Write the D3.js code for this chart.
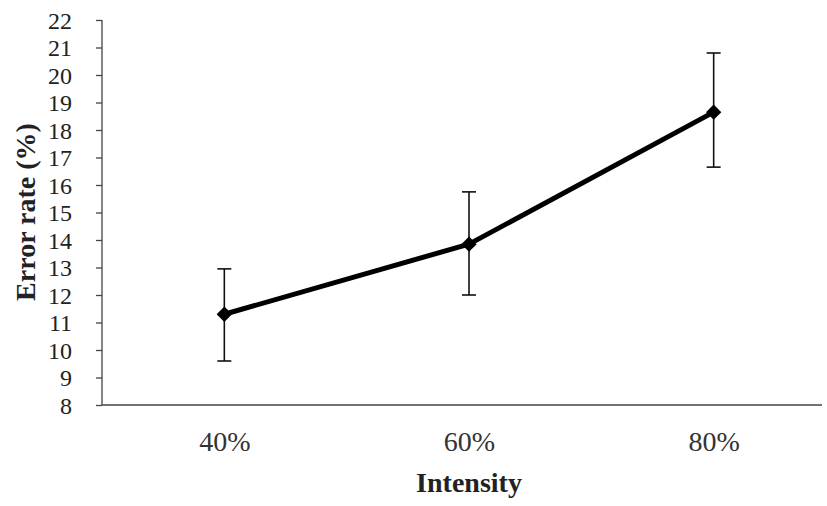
<!DOCTYPE html>
<html><head><meta charset="utf-8">
<script src="https://cdn.jsdelivr.net/npm/d3@7"></script>
<style>body{margin:0;background:#fff}svg{display:block}</style>
</head><body>
<svg id="c" width="827" height="506"></svg>
<script>
const categories = ["40%", "60%", "80%"];
const values = [11.3, 13.85, 18.65];
const errUpper = [12.95, 15.75, 20.8];
const errLower = [9.6, 12.0, 16.65];
const yTicks = d3.range(8, 23, 1);

const svg = d3.select("#c");
const x = d3.scalePoint().domain(categories).range([102, 836]).padding(0.5);
const y = d3.scaleLinear().domain([8, 22]).range([405, 20]);
const font = "'Liberation Serif', 'Times New Roman', Times, serif";
const ink = "#222";

// y axis
const ya = svg.append("g").attr("transform", "translate(102,0)")
  .call(d3.axisLeft(y).tickValues(yTicks).tickSize(6).tickPadding(24).tickFormat(d3.format("d")));
ya.select(".domain").attr("stroke", "#444").attr("stroke-width", 1.3).attr("d", "M0,20V405");
ya.selectAll(".tick line").attr("stroke", "#444").attr("stroke-width", 1.3);
ya.selectAll(".tick text").attr("font-family", font).style("font-size", "24px")
  .attr("fill", ink).attr("dy", "0.34em").attr("transform", "scale(1,1.15)")
  .attr("y", 0);
// keep vertical position after scaling
ya.selectAll(".tick text").attr("transform", null);

// x axis
const xa = svg.append("g").attr("transform", "translate(0,405)")
  .call(d3.axisBottom(x).tickSize(0).tickPadding(26));
xa.select(".domain").attr("stroke", "#444").attr("stroke-width", 1.3).attr("d", "M102,0H822");
xa.selectAll(".tick text").attr("font-family", font).style("font-size", "28px").attr("fill", "#333");

// error bars
const eb = svg.append("g").attr("stroke", "#111").attr("stroke-width", 1.6);
categories.forEach((c, i) => {
  eb.append("line").attr("x1", x(c)).attr("x2", x(c)).attr("y1", y(errUpper[i])).attr("y2", y(errLower[i]));
  eb.append("line").attr("x1", x(c) - 7).attr("x2", x(c) + 7).attr("y1", y(errUpper[i])).attr("y2", y(errUpper[i]));
  eb.append("line").attr("x1", x(c) - 7).attr("x2", x(c) + 7).attr("y1", y(errLower[i])).attr("y2", y(errLower[i]));
});

// line
svg.append("path").datum(values)
  .attr("fill", "none").attr("stroke", "#000").attr("stroke-width", 5).attr("stroke-linejoin", "round")
  .attr("d", d3.line().x((d, i) => x(categories[i])).y(d => y(d)));

// markers
svg.append("g").selectAll("path").data(values).join("path")
  .attr("transform", (d, i) => `translate(${x(categories[i])},${y(d)})`)
  .attr("d", d3.symbol().type(d3.symbolDiamond2).size(150))
  .attr("fill", "#000");

// titles
svg.append("text").attr("x", x("60%")).attr("y", 492).attr("text-anchor", "middle")
  .attr("font-family", font).style("font-size", "28px").attr("font-weight", "bold").attr("fill", ink).text("Intensity");
svg.append("text").attr("transform", "translate(35,212) rotate(-90)").attr("text-anchor", "middle")
  .attr("font-family", font).style("font-size", "28px").attr("font-weight", "bold").attr("fill", ink).text("Error rate (%)");
</script>
</body></html>
